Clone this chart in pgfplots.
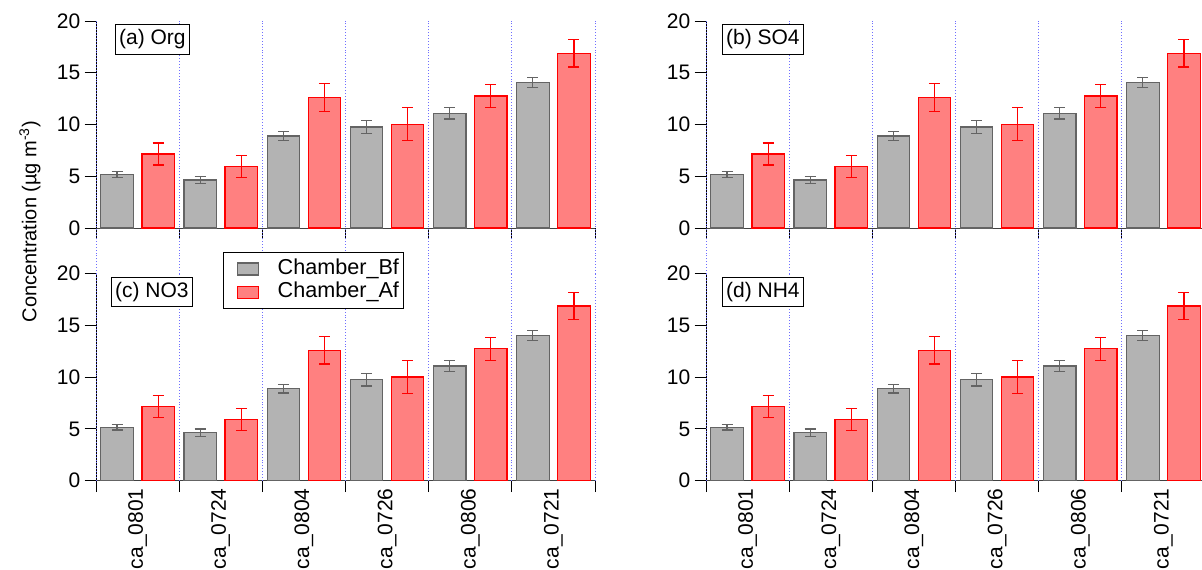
\documentclass[border=0pt]{standalone}
\usepackage{pgfplots}
\usepackage{pgfplotstable}
\pgfplotsset{compat=1.18}
\usepackage{fontspec}
\setmainfont{Liberation Sans}

\definecolor{barg}{RGB}{179,179,179}
\definecolor{edgeg}{RGB}{100,100,100}
\definecolor{barr}{RGB}{255,128,128}
\definecolor{edger}{RGB}{255,0,0}
\definecolor{gridb}{RGB}{110,110,255}

\pgfplotstableread{
x y e
-0.247 5.16 0.27
0.753 4.64 0.35
1.753 8.89 0.42
2.753 9.76 0.60
3.753 11.08 0.55
4.753 14.04 0.50
}\datbf
\pgfplotstableread{
x y e
0.247 7.15 1.07
1.247 5.93 1.05
2.247 12.60 1.33
3.247 10.02 1.60
4.247 12.75 1.12
5.247 16.88 1.32
}\dataf

\tikzset{
  gridl/.style={densely dotted, draw=gridb, line width=0.45pt},
  plab/.style={draw, line width=0.5pt, anchor=north west, inner xsep=1.8pt, inner ysep=2.5pt, fill=white},
}
\pgfplotsset{
  panel/.style={
    scale only axis, width=249.5pt, height=103.5pt,
    xmin=-0.5, xmax=5.5, ymin=0, ymax=20,
    axis x line=bottom, axis y line=left,
    x axis line style={-, line width=0.5pt, draw=black!75},
    y axis line style={-, line width=0.5pt, draw=black},
    ytick={0,5,10,15,20},
    xtick={-0.5,0.5,...,5.5},
    tick align=outside,
    major tick length=5.7pt,
    tick style={black, line width=0.5pt},
    /pgf/number format/assume math mode=true,
    yticklabel style={inner sep=2pt},
    clip=false,
    anchor=south west,
  },
  bf/.style={ybar, bar width=0.39, bar shift=0pt, fill=barg, draw=edgeg, line width=0.6pt,
    error bars/.cd, y dir=both, y explicit,
    error bar style={draw=edgeg, line width=0.6pt},
    error mark options={rotate=90, draw=edgeg, line width=0.6pt, mark size=2.75pt}},
  af/.style={ybar, bar width=0.39, bar shift=0pt, fill=barr, draw=edger, line width=0.6pt,
    error bars/.cd, y dir=both, y explicit,
    error bar style={draw=edger, line width=0.6pt},
    error mark options={rotate=90, draw=edger, line width=0.6pt, mark size=2.75pt}},
  toppanel/.style={panel, xticklabels={}},
  botpanel/.style={panel, x tick label as interval,
    xticklabels={ca\_0801,ca\_0724,ca\_0804,ca\_0726,ca\_0806,ca\_0721},
    xticklabel shift=-2.5pt,
    xticklabel style={rotate=90, anchor=east, inner sep=0.5pt}},
}

\begin{document}
\begin{tikzpicture}[font=\fontsize{10.5}{12.6}\selectfont]
% (a)
\begin{axis}[toppanel, at={(48pt,170.5pt)}]
\pgfplotsinvokeforeach{-0.5,0.5,1.5,2.5,3.5,4.5,5.5}{\draw[gridl] (axis cs:#1,-4.42) -- (axis cs:#1,20);}
\addplot[bf] table[x=x,y=y,y error=e]{\datbf};
\addplot[af] table[x=x,y=y,y error=e]{\dataf};
\node[plab] at (rel axis cs:0,1) [xshift=9.5pt, yshift=-1.5pt] {(a) Org};
\end{axis}
% (b)
\begin{axis}[toppanel, at={(353pt,170.5pt)}]
\pgfplotsinvokeforeach{-0.5,0.5,1.5,2.5,3.5,4.5,5.5}{\draw[gridl] (axis cs:#1,-4.42) -- (axis cs:#1,20);}
\addplot[bf] table[x=x,y=y,y error=e]{\datbf};
\addplot[af] table[x=x,y=y,y error=e]{\dataf};
\node[plab] at (rel axis cs:0,1) [xshift=8pt, yshift=-1.5pt] {(b) SO4};
\end{axis}
% (c)
\begin{axis}[botpanel, at={(48pt,44.15pt)},
  legend cell align=left,
  legend image code/.code={\path (0pt,0pt); \draw[#1] (6pt,-3pt) rectangle (16.35pt,3pt);},
  legend style={at={(0.254,1.103)}, anchor=north west, draw=black, line width=0.5pt,
    inner xsep=1pt, inner ysep=2.2pt, row sep=0pt,
    nodes={inner sep=1pt, text height=7.5pt, text depth=2.15pt, font=\fontsize{10.8}{13}\selectfont},
    /tikz/every odd column/.append style={column sep=8.3pt}}]
\pgfplotsinvokeforeach{-0.5,0.5,1.5,2.5,3.5,4.5,5.5}{\draw[gridl] (axis cs:#1,0) -- (axis cs:#1,20);}
\addplot[bf] table[x=x,y=y,y error=e]{\datbf};
\addlegendentry{Chamber\_Bf}
\addplot[af] table[x=x,y=y,y error=e]{\dataf};
\addlegendentry{Chamber\_Af}
\node[plab] at (rel axis cs:0,1) [xshift=7.5pt, yshift=-1.5pt] {(c) NO3};
\end{axis}
% (d)
\begin{axis}[botpanel, at={(353pt,44.15pt)}]
\pgfplotsinvokeforeach{-0.5,0.5,1.5,2.5,3.5,4.5,5.5}{\draw[gridl] (axis cs:#1,0) -- (axis cs:#1,20);}
\addplot[bf] table[x=x,y=y,y error=e]{\datbf};
\addplot[af] table[x=x,y=y,y error=e]{\dataf};
\node[plab] at (rel axis cs:0,1) [xshift=8pt, yshift=-1.5pt] {(d) NH4};
\end{axis}
\node[rotate=90, font=\fontsize{10}{12}\selectfont] at (15pt,173.75pt) {Concentration (µg m\textsuperscript{-3})};
\pgfresetboundingbox
\path[use as bounding box] (0,0) rectangle (601pt,284.5pt);
\end{tikzpicture}
\end{document}
